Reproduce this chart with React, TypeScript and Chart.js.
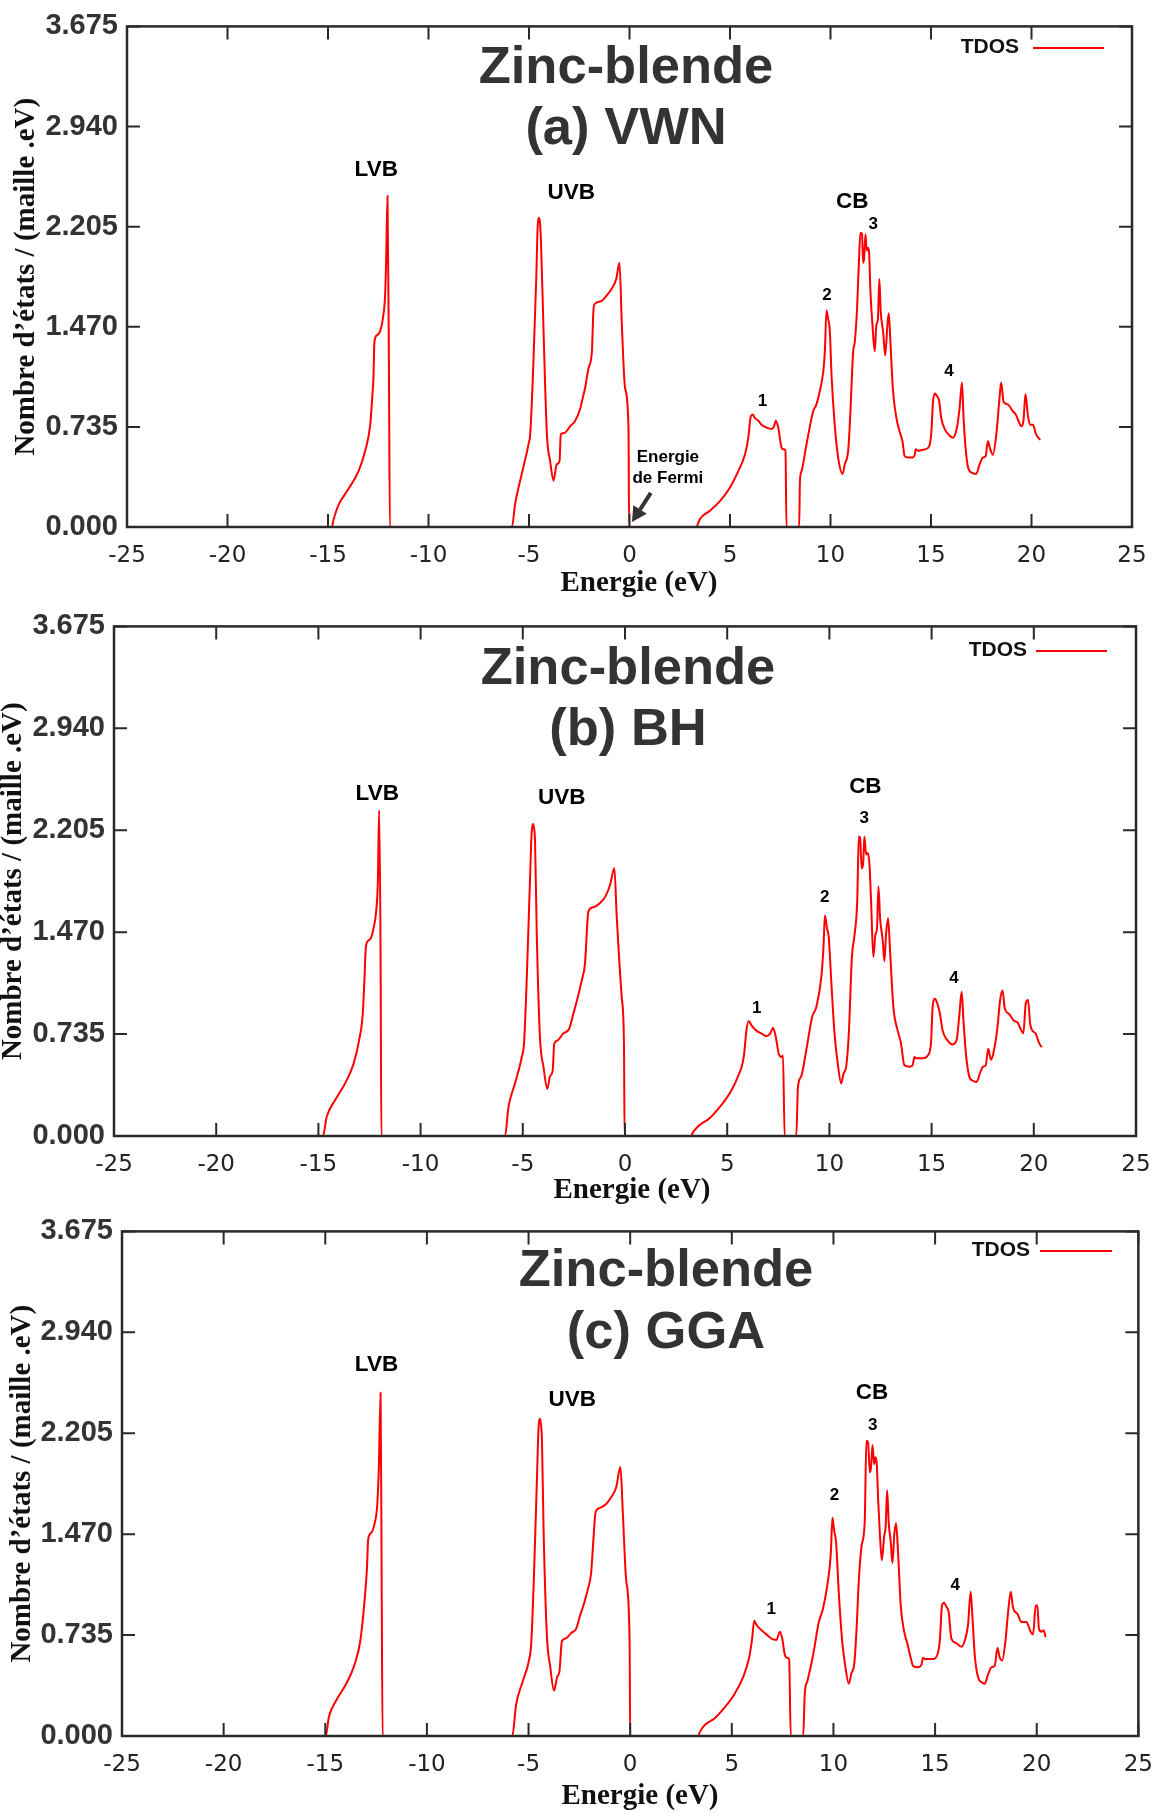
import { useEffect, useRef } from 'react';
import { Chart, registerables } from 'chart.js';

Chart.register(...registerables);

// Axis ticks
const energyTicks = [-25, -20, -15, -10, -5, 0, 5, 10, 15, 20, 25];
const dosTicks = [0, 0.735, 1.47, 2.205, 2.94, 3.675];

// (a) VWN — total density of states
const vwnEnergy = [
  -21.7, -14.81, -14.73, -14.48, -13.98, -13.48, -13.15, -12.9, -12.79, -12.74, -12.69, -12.54, -12.4, -12.27, -12.16, -12.11, -12.04, -11.97, -11.92,
  -5.85, -5.69, -5.36, -5.02, -4.94, -4.78, -4.64, -4.57, -4.52, -4.46, -4.41, -4.28, -4.11, -3.95, -3.78, -3.62, -3.48, -3.42, -3.25, -2.95, -2.7, -2.45,
  -2.29, -2.21, -2.04, -1.87, -1.79, -1.71, -1.38, -1.13, -0.88, -0.66, -0.5, -0.38, -0.22, -0.05, -0.02,
  3.31, 3.51, 4.0, 4.5, 5.0, 5.41, 5.74, 5.91, 6.03, 6.13, 6.24, 6.41, 6.57, 6.82, 7.07, 7.19, 7.28, 7.4, 7.57, 7.68, 7.76, 7.81,
  8.44, 8.48, 8.56, 8.81, 9.14, 9.3, 9.47, 9.64, 9.72, 9.8, 9.88, 9.97, 10.05, 10.21, 10.38, 10.6, 10.71, 10.88, 10.96, 11.13, 11.21,
  11.32, 11.42, 11.49, 11.57, 11.62, 11.67, 11.74, 11.8, 11.87, 11.92, 11.99, 12.09, 12.2, 12.28, 12.36, 12.43, 12.5, 12.62, 12.72,
  12.83, 12.9, 12.98, 13.11, 13.28, 13.44, 13.58, 13.69, 13.86, 14.07, 14.19, 14.24, 14.36, 14.69, 14.9, 15.02, 15.1, 15.2, 15.3, 15.4,
  15.51, 15.68, 15.93, 16.09, 16.29, 16.42, 16.54, 16.62, 16.72, 16.84, 17.01, 17.25, 17.42, 17.58, 17.72, 17.83, 17.95, 18.08, 18.25,
  18.41, 18.49, 18.61, 18.82, 19.07, 19.24, 19.35, 19.49, 19.6, 19.7, 19.82, 19.93, 20.07, 20.23, 20.43,
];
const vwnDos = [
  0, 0, 0.05, 0.16, 0.28, 0.41, 0.56, 0.75, 0.97, 1.09, 1.36, 1.41, 1.44, 1.53, 1.7, 1.94, 2.43, 1.21, 0,
  0, 0.17, 0.39, 0.61, 0.68, 1.21, 1.82, 2.2, 2.27, 2.24, 2.12, 1.46, 0.68, 0.485, 0.34, 0.46, 0.485, 0.68, 0.69, 0.74, 0.78, 0.87,
  0.97, 1.02, 1.165, 1.29, 1.6, 1.64, 1.66, 1.7, 1.75, 1.82, 1.94, 1.48, 1.02, 0.73, 0,
  0, 0.06, 0.12, 0.19, 0.29, 0.41, 0.53, 0.655, 0.81, 0.825, 0.8, 0.78, 0.75, 0.73, 0.72, 0.74, 0.78, 0.73, 0.58, 0.57, 0.56, 0,
  0, 0.34, 0.41, 0.61, 0.85, 0.9, 1.0, 1.14, 1.29, 1.59, 1.53, 1.43, 1.12, 0.75, 0.51, 0.39, 0.46, 0.56, 0.75, 1.29, 1.36,
  1.6, 1.97, 2.16, 2.15, 1.94, 1.97, 2.15, 2.03, 2.05, 2.01, 1.72, 1.48, 1.29, 1.48, 1.53, 1.82, 1.58, 1.43, 1.26,
  1.48, 1.57, 1.36, 1.0, 0.8, 0.7, 0.63, 0.52, 0.51, 0.51, 0.53, 0.57, 0.56, 0.57, 0.59, 0.7, 0.92, 0.98, 0.96, 0.93,
  0.8, 0.72, 0.67, 0.655, 0.73, 0.87, 1.06, 0.8, 0.58, 0.44, 0.4, 0.39, 0.46, 0.51, 0.52, 0.63, 0.57, 0.53, 0.68,
  0.95, 1.06, 0.92, 0.9, 0.85, 0.82, 0.78, 0.74, 0.78, 0.976, 0.82, 0.75, 0.75, 0.68, 0.64,
];

// (b) BH — total density of states
const bhEnergy = [
  -21.6, -14.78, -14.59, -14.18, -13.69, -13.28, -13.01, -12.83, -12.75, -12.68, -12.55, -12.42, -12.3, -12.19, -12.09, -12.03, -11.96, -11.92,
  -5.87, -5.7, -5.38, -5.05, -4.94, -4.81, -4.65, -4.57, -4.51, -4.45, -4.4, -4.32, -4.16, -3.99, -3.8, -3.67, -3.54, -3.46, -3.29, -3.02, -2.74, -2.53,
  -2.31, -2.12, -1.96, -1.79, -1.55, -1.22, -0.95, -0.73, -0.52, -0.41, -0.16, -0.05, -0.02,
  3.25, 3.3, 3.58, 4.15, 4.64, 5.13, 5.53, 5.81, 5.94, 6.05, 6.18, 6.43, 6.67, 6.92, 7.11, 7.24, 7.37, 7.53, 7.65, 7.73, 7.81,
  8.38, 8.46, 8.62, 8.87, 9.16, 9.36, 9.6, 9.71, 9.78, 9.88, 9.97, 10.09, 10.25, 10.41, 10.58, 10.69, 10.82, 10.95, 11.1, 11.23,
  11.36, 11.44, 11.5, 11.58, 11.65, 11.71, 11.8, 11.88, 11.96, 12.04, 12.15, 12.25, 12.33, 12.4, 12.48, 12.61, 12.69, 12.77, 12.87,
  12.97, 13.13, 13.34, 13.5, 13.67, 13.91, 14.07, 14.16, 14.24, 14.59, 14.81, 14.97, 15.05, 15.17, 15.29, 15.41, 15.54, 15.78, 16.03,
  16.22, 16.35, 16.47, 16.56, 16.68, 16.84, 17.0, 17.2, 17.36, 17.52, 17.65, 17.77, 17.9, 18.01, 18.22, 18.35, 18.47, 18.58, 18.79,
  19.04, 19.2, 19.36, 19.49, 19.61, 19.72, 19.82, 19.93, 20.09, 20.26, 20.39,
];
const bhDos = [
  0, 0, 0.14, 0.26, 0.38, 0.52, 0.69, 0.88, 1.12, 1.36, 1.41, 1.43, 1.5, 1.6, 1.84, 2.35, 1.36, 0,
  0, 0.21, 0.38, 0.57, 0.67, 1.12, 1.84, 2.18, 2.25, 2.22, 2.12, 1.48, 0.71, 0.5, 0.34, 0.43, 0.47, 0.665, 0.69, 0.74, 0.77, 0.88,
  1.0, 1.12, 1.24, 1.62, 1.65, 1.68, 1.73, 1.81, 1.93, 1.6, 1.0, 0.66, 0,
  0, 0.02, 0.07, 0.13, 0.21, 0.31, 0.43, 0.57, 0.76, 0.83, 0.8, 0.76, 0.74, 0.72, 0.74, 0.78, 0.72, 0.59, 0.57, 0.58, 0,
  0, 0.35, 0.43, 0.62, 0.86, 0.93, 1.14, 1.36, 1.59, 1.5, 1.43, 1.12, 0.74, 0.52, 0.38, 0.45, 0.5, 0.74, 1.29, 1.45,
  1.69, 2.16, 2.15, 1.93, 1.96, 2.16, 2.03, 2.04, 1.96, 1.69, 1.29, 1.45, 1.5, 1.8, 1.57, 1.41, 1.26, 1.45, 1.57,
  1.33, 0.93, 0.76, 0.67, 0.51, 0.5, 0.51, 0.57, 0.56, 0.56, 0.58, 0.67, 0.93, 0.99, 0.95, 0.88, 0.76, 0.69, 0.66,
  0.69, 0.86, 1.04, 0.83, 0.59, 0.43, 0.4, 0.39, 0.45, 0.5, 0.51, 0.63, 0.55, 0.59, 0.78, 0.98, 1.05, 0.92, 0.88,
  0.83, 0.82, 0.77, 0.74, 0.96, 0.98, 0.81, 0.76, 0.74, 0.67, 0.64,
];

// (c) GGA — total density of states
const ggaEnergy = [
  -21.7, -14.98, -14.82, -14.46, -13.97, -13.56, -13.28, -13.07, -12.95, -12.89, -12.74, -12.57, -12.44, -12.36, -12.28, -12.23, -12.18,
  -5.8, -5.61, -5.28, -4.98, -4.87, -4.74, -4.59, -4.51, -4.46, -4.4, -4.34, -4.26, -4.1, -3.93, -3.75, -3.59, -3.48, -3.36, -3.18, -2.9, -2.66, -2.46,
  -2.3, -2.08, -1.92, -1.84, -1.7, -1.51, -1.18, -0.93, -0.69, -0.48, -0.36, -0.2, -0.03, 0.0,
  3.34, 3.43, 3.67, 4.16, 4.66, 5.15, 5.56, 5.85, 6.0, 6.1, 6.21, 6.46, 6.7, 6.95, 7.2, 7.36, 7.48, 7.61, 7.72, 7.82, 7.9,
  8.51, 8.59, 8.72, 9.0, 9.28, 9.49, 9.74, 9.87, 9.95, 10.03, 10.13, 10.26, 10.43, 10.59, 10.75, 10.89, 11.02, 11.13, 11.25, 11.38,
  11.54, 11.62, 11.7, 11.79, 11.85, 11.92, 12.0, 12.07, 12.13, 12.2, 12.28, 12.38, 12.49, 12.57, 12.64, 12.72, 12.82, 12.9, 13.0,
  13.08, 13.18, 13.31, 13.48, 13.64, 13.8, 13.92, 14.13, 14.33, 14.41, 14.52, 14.9, 15.11, 15.23, 15.34, 15.44, 15.56, 15.67, 15.8,
  16.0, 16.3, 16.49, 16.62, 16.75, 16.84, 16.95, 17.11, 17.31, 17.44, 17.61, 17.77, 17.93, 18.07, 18.18, 18.3, 18.46, 18.59, 18.72,
  18.84, 19.05, 19.25, 19.49, 19.7, 19.82, 19.95, 20.03, 20.11, 20.23, 20.33, 20.44,
];
const ggaDos = [
  0, 0, 0.14, 0.26, 0.38, 0.52, 0.69, 0.98, 1.22, 1.43, 1.48, 1.55, 1.69, 1.98, 2.5, 1.26, 0,
  0, 0.23, 0.4, 0.55, 0.67, 1.14, 1.86, 2.24, 2.31, 2.28, 2.15, 1.5, 0.74, 0.5, 0.33, 0.43, 0.47, 0.69, 0.71, 0.75, 0.78, 0.88,
  0.95, 1.07, 1.19, 1.36, 1.63, 1.66, 1.69, 1.74, 1.81, 1.96, 1.62, 1.14, 0.71, 0,
  0, 0.03, 0.08, 0.13, 0.21, 0.31, 0.43, 0.57, 0.71, 0.84, 0.81, 0.77, 0.74, 0.71, 0.7, 0.76, 0.71, 0.59, 0.57, 0.56, 0,
  0, 0.31, 0.4, 0.59, 0.83, 0.93, 1.14, 1.33, 1.59, 1.5, 1.41, 1.05, 0.69, 0.5, 0.38, 0.46, 0.52, 0.76, 1.14, 1.38,
  1.57, 2.15, 2.14, 1.92, 1.96, 2.12, 1.98, 2.03, 1.98, 1.72, 1.48, 1.28, 1.45, 1.53, 1.79, 1.55, 1.41, 1.26, 1.48,
  1.55, 1.33, 0.95, 0.76, 0.67, 0.57, 0.51, 0.5, 0.52, 0.57, 0.56, 0.56, 0.59, 0.69, 0.95, 0.97, 0.94, 0.9, 0.71,
  0.68, 0.65, 0.71, 0.81, 1.05, 0.86, 0.59, 0.43, 0.39, 0.38, 0.45, 0.5, 0.51, 0.64, 0.57, 0.55, 0.69, 0.9, 1.05,
  0.93, 0.89, 0.83, 0.83, 0.76, 0.74, 0.95, 0.95, 0.78, 0.76, 0.77, 0.72,
];

// Band labels placed at energy / DOS coordinates
type Note = { text: string; x: number; y: number; size: number };
const vwnNotes: Note[] = [
  { text: 'LVB', x: -12.6, y: 2.62, size: 22.5 },
  { text: 'UVB', x: -2.9, y: 2.45, size: 22.5 },
  { text: 'CB', x: 11.08, y: 2.39, size: 22.5 },
  { text: '1', x: 6.62, y: 0.92, size: 17 },
  { text: '2', x: 9.82, y: 1.7, size: 17 },
  { text: '3', x: 12.12, y: 2.22, size: 17 },
  { text: '4', x: 15.9, y: 1.14, size: 17 },
];
const bhNotes: Note[] = [
  { text: 'LVB', x: -12.12, y: 2.47, size: 22.5 },
  { text: 'UVB', x: -3.1, y: 2.44, size: 22.5 },
  { text: 'CB', x: 11.76, y: 2.52, size: 22.5 },
  { text: '1', x: 6.44, y: 0.92, size: 17 },
  { text: '2', x: 9.77, y: 1.72, size: 17 },
  { text: '3', x: 11.7, y: 2.29, size: 17 },
  { text: '4', x: 16.1, y: 1.14, size: 17 },
];
const ggaNotes: Note[] = [
  { text: 'LVB', x: -12.48, y: 2.7, size: 22.5 },
  { text: 'UVB', x: -2.85, y: 2.45, size: 22.5 },
  { text: 'CB', x: 11.9, y: 2.5, size: 22.5 },
  { text: '1', x: 6.94, y: 0.92, size: 17 },
  { text: '2', x: 10.05, y: 1.75, size: 17 },
  { text: '3', x: 11.93, y: 2.26, size: 17 },
  { text: '4', x: 15.99, y: 1.1, size: 17 },
];

type Panel = {
  energy: number[];
  dos: number[];
  notes: Note[];
  title: string[];
  canvasTop: number;
  height: number;
  left: number;
  right: number;
  top: number;
  bottom: number;
  titleX: number;
  titleY: number[];
  legendRight: number;
  legendY: number;
  legendLine: number[];
  yTitleX: number;
  xTitleX: number;
  xTitleY: number;
  fermi: boolean;
};

const W = 1168;
const SANS = '"Liberation Sans", Arial, Helvetica, sans-serif';
const SERIF = '"Liberation Serif", "Times New Roman", Times, serif';

const panels: Panel[] = [
  {
    energy: vwnEnergy, dos: vwnDos, notes: vwnNotes, title: ['Zinc-blende', '(a) VWN'],
    canvasTop: 0, height: 600, left: 127, right: 1132, top: 22, bottom: 527,
    titleX: 626, titleY: [83, 144], legendRight: 1019, legendY: 47, legendLine: [1033, 1104],
    yTitleX: 27, xTitleX: 639, xTitleY: 591, fermi: true,
  },
  {
    energy: bhEnergy, dos: bhDos, notes: bhNotes, title: ['Zinc-blende', '(b) BH'],
    canvasTop: 600, height: 605, left: 114, right: 1136, top: 24, bottom: 536,
    titleX: 628, titleY: [84, 145], legendRight: 1027, legendY: 50, legendLine: [1036, 1107],
    yTitleX: 14, xTitleX: 632, xTitleY: 598, fermi: false,
  },
  {
    energy: ggaEnergy, dos: ggaDos, notes: ggaNotes, title: ['Zinc-blende', '(c) GGA'],
    canvasTop: 1205, height: 609, left: 122, right: 1139, top: 19, bottom: 531,
    titleX: 666, titleY: [81, 143], legendRight: 1030, legendY: 45, legendLine: [1040, 1112],
    yTitleX: 23, xTitleX: 640, xTitleY: 599, fermi: false,
  },
];

// Frame, inward ticks, titles, legend and band labels
function makeDecor(p: Panel) {
  return {
    id: 'panelDecor',
    afterDatasetsDraw(chart: any) {
      const { ctx, chartArea: a, scales } = chart;
      const xs = scales.x;
      const ys = scales.y;
      ctx.save();

      // box and inward tick marks
      ctx.strokeStyle = '#2a2a2a';
      ctx.lineWidth = 2.5;
      ctx.strokeRect(a.left, a.top, a.right - a.left, a.bottom - a.top);
      ctx.lineWidth = 2;
      ctx.beginPath();
      for (const v of energyTicks) {
        const px = xs.getPixelForValue(v);
        ctx.moveTo(px, a.bottom);
        ctx.lineTo(px, a.bottom - 13);
        ctx.moveTo(px, a.top);
        ctx.lineTo(px, a.top + 13);
      }
      for (const v of dosTicks) {
        const py = ys.getPixelForValue(v);
        ctx.moveTo(a.left, py);
        ctx.lineTo(a.left + 13, py);
        ctx.moveTo(a.right, py);
        ctx.lineTo(a.right - 13, py);
      }
      ctx.stroke();

      // panel title
      ctx.fillStyle = '#333333';
      ctx.font = `bold 52.5px ${SANS}`;
      ctx.textAlign = 'center';
      ctx.textBaseline = 'alphabetic';
      p.title.forEach((t, i) => ctx.fillText(t, p.titleX, p.titleY[i]));

      // legend
      ctx.fillStyle = '#111111';
      ctx.font = `bold 21px ${SANS}`;
      ctx.textAlign = 'right';
      ctx.textBaseline = 'middle';
      ctx.fillText('TDOS', p.legendRight, p.legendY);
      ctx.strokeStyle = '#ff0000';
      ctx.lineWidth = 2;
      ctx.beginPath();
      ctx.moveTo(p.legendLine[0], p.legendY + 1);
      ctx.lineTo(p.legendLine[1], p.legendY + 1);
      ctx.stroke();

      // band labels
      ctx.fillStyle = '#000000';
      ctx.textAlign = 'center';
      ctx.textBaseline = 'middle';
      for (const n of p.notes) {
        ctx.font = `bold ${n.size}px ${SANS}`;
        ctx.fillText(n.text, xs.getPixelForValue(n.x), ys.getPixelForValue(n.y));
      }

      // Fermi level marker
      if (p.fermi) {
        ctx.font = `bold 17px ${SANS}`;
        ctx.fillText('Energie', xs.getPixelForValue(1.91), ys.getPixelForValue(0.51));
        ctx.fillText('de Fermi', xs.getPixelForValue(1.91), ys.getPixelForValue(0.36));
        const x0 = xs.getPixelForValue(1.06);
        const y0 = ys.getPixelForValue(0.25);
        const x1 = xs.getPixelForValue(0.12);
        const y1 = ys.getPixelForValue(0.036);
        const ang = Math.atan2(y1 - y0, x1 - x0);
        const head = 15;
        const bx = x1 - head * Math.cos(ang);
        const by = y1 - head * Math.sin(ang);
        ctx.strokeStyle = '#333333';
        ctx.fillStyle = '#333333';
        ctx.lineWidth = 4;
        ctx.beginPath();
        ctx.moveTo(x0, y0);
        ctx.lineTo(bx, by);
        ctx.stroke();
        ctx.beginPath();
        ctx.moveTo(x1, y1);
        ctx.lineTo(bx + 8 * Math.sin(ang), by - 8 * Math.cos(ang));
        ctx.lineTo(bx - 8 * Math.sin(ang), by + 8 * Math.cos(ang));
        ctx.closePath();
        ctx.fill();
      }

      // axis titles
      ctx.fillStyle = '#111111';
      ctx.font = `bold 29px ${SERIF}`;
      ctx.textAlign = 'center';
      ctx.textBaseline = 'alphabetic';
      ctx.fillText('Energie (eV)', p.xTitleX, p.xTitleY);
      ctx.save();
      ctx.translate(p.yTitleX, (a.top + a.bottom) / 2);
      ctx.rotate(-Math.PI / 2);
      ctx.textBaseline = 'middle';
      ctx.fillText('Nombre d’états / (maille .eV)', 0, 0);
      ctx.restore();

      ctx.restore();
    },
  };
}

function DosPanel({ p }: { p: Panel }) {
  const ref = useRef<HTMLCanvasElement>(null);
  useEffect(() => {
    if (!ref.current) return;
    const points = p.energy.map((e, i) => ({ x: e, y: p.dos[i] }));
    const chart = new Chart(ref.current, {
      type: 'line',
      data: {
        datasets: [
          {
            label: 'TDOS',
            data: points,
            borderColor: '#ff0000',
            borderWidth: 2,
            pointRadius: 0,
            cubicInterpolationMode: 'monotone',
            fill: false,
          },
        ],
      },
      options: {
        animation: false,
        responsive: false,
        devicePixelRatio: 1,
        events: [],
        layout: { padding: { left: 0, top: p.top, right: W - p.right, bottom: 0 } },
        plugins: {
          legend: { display: false },
          tooltip: { enabled: false },
          title: { display: false },
        },
        scales: {
          x: {
            type: 'linear',
            min: -25,
            max: 25,
            grid: { display: false, drawTicks: false },
            border: { display: false },
            afterBuildTicks: (s: any) => {
              s.ticks = energyTicks.map((v) => ({ value: v }));
            },
            afterFit: (s: any) => {
              s.height = p.height - p.bottom;
            },
            ticks: {
              autoSkip: false,
              maxRotation: 0,
              padding: 15,
              color: '#222222',
              font: { family: '"DejaVu Sans", sans-serif', size: 23 },
              callback: (v: any) => String(v),
            },
          },
          y: {
            type: 'linear',
            min: 0,
            max: 3.675,
            grid: { display: false, drawTicks: false },
            border: { display: false },
            afterBuildTicks: (s: any) => {
              s.ticks = dosTicks.map((v) => ({ value: v }));
            },
            afterFit: (s: any) => {
              s.width = p.left;
            },
            ticks: {
              autoSkip: false,
              padding: 9,
              color: '#333333',
              font: { family: SANS, size: 29, weight: 'bold' },
              callback: (v: any) => Number(v).toFixed(3),
            },
          },
        },
      },
      plugins: [makeDecor(p)],
    } as any);
    return () => chart.destroy();
  }, [p]);
  return (
    <canvas
      ref={ref}
      width={W}
      height={p.height}
      style={{ position: 'absolute', left: 0, top: p.canvasTop, width: W, height: p.height }}
    />
  );
}

export default function App() {
  return (
    <div style={{ position: 'absolute', left: 0, top: 0, width: W, height: 1814, background: '#ffffff' }}>
      {panels.map((p, i) => (
        <DosPanel key={i} p={p} />
      ))}
    </div>
  );
}
